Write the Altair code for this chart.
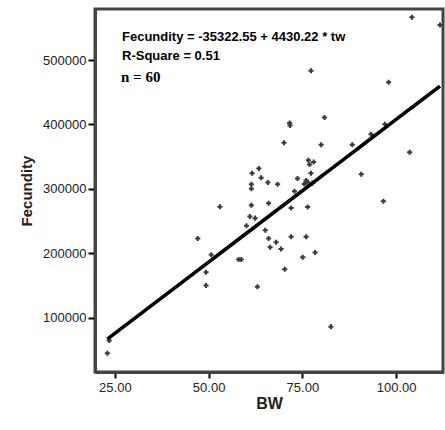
import altair as alt
import pandas as pd

# Body weight (BW) and fecundity (n = 60)
bw = [104.2, 111.7, 77.3, 98.0, 80.9, 71.6, 71.7, 97.0, 93.3, 70.1,
      80.0, 88.3, 103.6, 76.6, 78.0, 76.9, 63.4, 61.6, 77.3, 90.7,
      64.0, 73.7, 76.0, 76.4, 75.5, 77.7, 65.8, 68.4, 61.4, 61.4,
      72.9, 96.6, 66.0, 61.4, 53.0, 76.4, 72.0, 61.0, 62.4, 60.1,
      65.1, 47.1, 66.0, 72.0, 76.0, 68.0, 66.4, 69.3, 78.4, 50.7,
      75.1, 58.0, 58.7, 70.3, 49.3, 49.3, 63.0, 82.6, 23.0, 23.5]
fecundity = [566300, 554350, 483400, 465400, 410700, 402200, 398300, 400200, 384600, 371400,
             368300, 368500, 356700, 344300, 341600, 337700, 331500, 324100, 324100, 322500,
             317200, 316000, 312900, 310300, 307600, 309000, 309800, 307000, 307000, 300000,
             296100, 280600, 277500, 274500, 272200, 271700, 270200, 257000, 254400, 242600,
             235700, 222800, 222800, 225600, 225600, 217100, 209300, 206500, 201100, 197500,
             193600, 190200, 190200, 175000, 170300, 149800, 148000, 85900, 44600, 64400]

# Fitted line as printed on the chart
intercept = -35322.55
slope = 4430.22

x_ticks = [25, 50, 75, 100]
y_ticks = [100000, 200000, 300000, 400000, 500000]
annot_lines = ["Fecundity = -35322.55 + 4430.22 * tw", "R-Square = 0.51"]
n_label = "n = 60"

df = pd.DataFrame({"BW": bw, "Fecundity": fecundity})

xs = alt.Scale(domain=[19.7, 112.5], nice=False, zero=False)
ys = alt.Scale(domain=[15500, 579200], nice=False, zero=False)

x_axis = alt.Axis(values=x_ticks, format=".2f", title="BW", grid=False,
                  domain=True, domainColor="#444", domainWidth=3,
                  tickColor="black", tickWidth=2, tickSize=6, labelPadding=3,
                  labelFontSize=13, labelColor="#222", labelFont="Liberation Sans",
                  titleFont="Liberation Sans", titleFontSize=16, titleFontWeight="bold",
                  titlePadding=1, titleColor="#222")
y_axis = alt.Axis(values=y_ticks, format="d", title="Fecundity", grid=False,
                  domain=True, domainColor="#444", domainWidth=3,
                  tickColor="black", tickWidth=2, tickSize=7, labelPadding=2,
                  labelFontSize=13, labelColor="#222", labelFont="Liberation Sans",
                  titleFont="Liberation Sans", titleFontSize=15, titleFontWeight="bold",
                  titlePadding=8, titleColor="#222")

base = alt.Chart(df)

points = base.mark_point(shape="cross", filled=True, size=26, color="#3a3a3a", opacity=1).encode(
    x=alt.X("BW:Q", scale=xs, axis=x_axis),
    y=alt.Y("Fecundity:Q", scale=ys, axis=y_axis),
)

fit = base.transform_calculate(
    fit=f"{intercept} + {slope} * datum.BW"
).mark_line(color="black", strokeWidth=3.6, clip=True).encode(
    x=alt.X("BW:Q", scale=xs),
    y=alt.Y("fit:Q", scale=ys),
    order="BW:Q",
)

t1 = alt.Chart(pd.DataFrame({"t": [annot_lines[0]]})).mark_text(
    align="left", baseline="middle", font="Liberation Sans", fontSize=13,
    fontWeight="bold", color="black"
).encode(text="t:N", x=alt.value(27), y=alt.value(28))

t2 = alt.Chart(pd.DataFrame({"t": [annot_lines[1]]})).mark_text(
    align="left", baseline="middle", font="Liberation Sans", fontSize=13,
    fontWeight="bold", color="black"
).encode(text="t:N", x=alt.value(27), y=alt.value(47))

t3 = alt.Chart(pd.DataFrame({"t": [n_label]})).mark_text(
    align="left", baseline="middle", font="Liberation Serif", fontSize=15,
    fontWeight="bold", color="black"
).encode(text="t:N", x=alt.value(26), y=alt.value(68))

chart = alt.layer(points, fit, t1, t2, t3).properties(
    width=348, height=363,
    background="white",
    autosize=alt.AutoSizeParams(type="none"),
    padding={"left": 95, "top": 9, "right": 2, "bottom": 58},
    view=alt.ViewBackground(stroke="#444", strokeWidth=3),
)

chart.save("out.html", embed_options={"renderer": "svg", "actions": False})
